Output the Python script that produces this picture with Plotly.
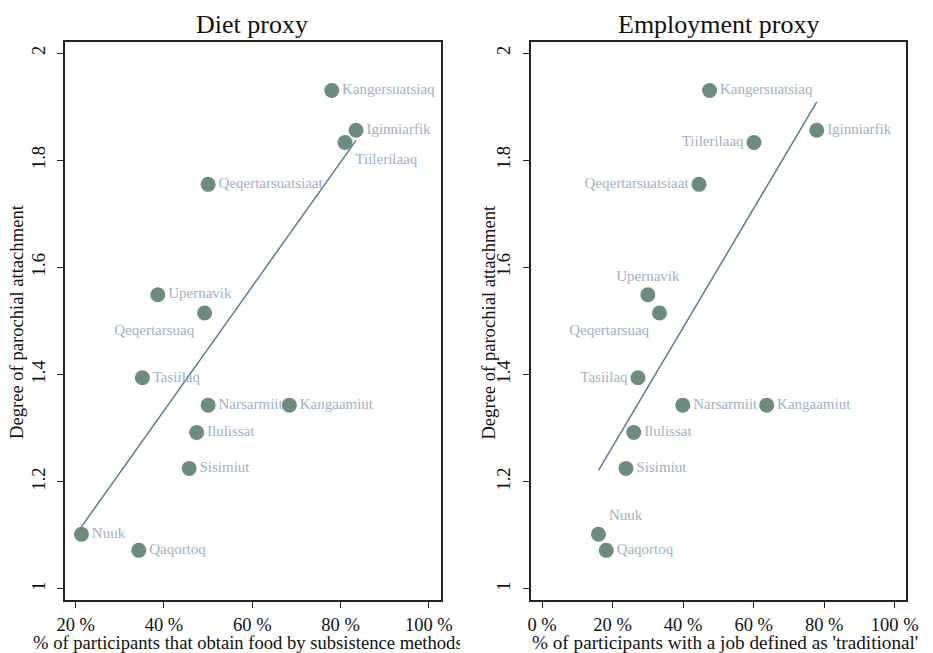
import numpy as np
import plotly.graph_objects as go

# ---- data ----
towns = ["Kangersuatsiaq", "Iginniarfik", "Tiilerilaaq", "Qeqertarsuatsiaat",
         "Upernavik", "Qeqertarsuaq", "Tasiilaq", "Narsarmiit", "Kangaamiut",
         "Ilulissat", "Sisimiut", "Nuuk", "Qaqortoq"]
attachment = [1.930, 1.856, 1.833, 1.755, 1.549, 1.515, 1.394, 1.343, 1.343,
              1.292, 1.225, 1.102, 1.072]
diet_pct = [78.0, 83.5, 81.0, 50.0, 38.6, 49.2, 35.1, 50.0, 68.4, 47.4, 45.7, 21.3, 34.3]
employ_pct = [47.5, 77.9, 60.1, 44.5, 30.0, 33.3, 27.2, 39.9, 63.7, 26.0, 23.8, 16.0, 18.2]

y_ticks = [1, 1.2, 1.4, 1.6, 1.8, 2]
y_ticklabels = ["1", "1.2", "1.4", "1.6", "1.8", "2"]
x_ticks_diet = [20, 40, 60, 80, 100]
x_ticks_emp = [0, 20, 40, 60, 80, 100]

# label placement (style)
pos_diet = ["middle right", "middle right", "bottom right", "middle right",
            "middle right", "bottom left", "middle right", "middle right",
            "middle right", "middle right", "middle right", "middle right",
            "middle right"]
pos_emp = ["middle right", "middle right", "middle left", "middle left",
           "top center", "bottom left", "middle left", "middle right",
           "middle right", "middle right", "middle right", "top right",
           "middle right"]

FONT = "Liberation Serif"
MARKER = "#6b8c7e"
LABEL = "#9fb0c8"
LINE = "#5b7a95"
FRAME = "#222222"

fig = go.Figure()


def add_panel(xdata, positions, xa, ya):
    x = np.array(xdata)
    y = np.array(attachment)
    b, a = np.polyfit(x, y, 1)
    xs = np.array([x.min(), x.max()])
    fig.add_trace(go.Scatter(x=xs, y=a + b * xs, mode="lines",
                             line=dict(color=LINE, width=1.5),
                             xaxis=xa, yaxis=ya, showlegend=False,
                             hoverinfo="skip"))
    fig.add_trace(go.Scatter(x=x, y=y, mode="markers+text", text=towns,
                             textposition=positions,
                             textfont=dict(family=FONT, size=15, color=LABEL),
                             marker=dict(size=15, color=MARKER),
                             cliponaxis=False,
                             xaxis=xa, yaxis=ya, showlegend=False))


add_panel(diet_pct, pos_diet, "x", "y")
add_panel(employ_pct, pos_emp, "x2", "y2")

# page body margin offset (screen px -> figure px)
OFF = 8
W, H = 933 - OFF, 653 - OFF


def px(p):
    return (p - OFF) / W


def py(p):
    return 1 - (p - OFF) / H


ydom = [py(600), py(42)]
yrange = [0.9794, 2.0206]

axis_common = dict(showgrid=False, zeroline=False, showline=True, mirror=True,
                   linecolor=FRAME, linewidth=1.6, ticks="outside", ticklen=6,
                   tickwidth=1.2, tickcolor=FRAME,
                   tickfont=dict(family=FONT, size=18.5, color="#111"))

fig.update_layout(
    width=W, height=H,
    margin=dict(l=0, r=0, t=0, b=0),
    paper_bgcolor="white", plot_bgcolor="white",
    xaxis=dict(domain=[px(58), px(442)], range=[17.56, 102.66],
               tickvals=x_ticks_diet, ticktext=[f"{v} %" for v in x_ticks_diet],
               ticklabelstandoff=1, anchor="y", **axis_common),
    yaxis=dict(domain=ydom, range=yrange, tickvals=y_ticks, ticktext=y_ticklabels,
               tickangle=-90, ticklabelstandoff=5, anchor="x", **axis_common),
    xaxis2=dict(domain=[px(534), px(918)], range=[-3.25, 103.3],
                tickvals=x_ticks_emp, ticktext=[f"{v} %" for v in x_ticks_emp],
                ticklabelstandoff=1, anchor="y2", **axis_common),
    yaxis2=dict(domain=ydom, range=yrange, tickvals=y_ticks, ticktext=y_ticklabels,
                tickangle=-90, ticklabelstandoff=5, anchor="x2", **axis_common),
)

tfont = dict(family=FONT, size=26, color="#111")
afont = dict(family=FONT, size=18.6, color="#111")
afont2 = dict(family=FONT, size=19.2, color="#111")
ann = [
    dict(text="Diet proxy", x=px(249), y=py(25), font=tfont),
    dict(text="Employment proxy", x=px(726), y=py(25), font=tfont),
    dict(text="% of participants that obtain food by subsistence methods",
         x=px(23), y=py(642), xanchor="left", width=427, align="left",
         font=afont),
    dict(text="% of participants with a job defined as 'traditional'",
         x=px(733), y=py(642), font=afont2),
    dict(text="Degree of parochial attachment", x=px(8), y=py(322),
         textangle=-90, font=afont),
    dict(text="Degree of parochial attachment", x=px(490), y=py(322),
         textangle=-90, font=afont),
]
for a in ann:
    a.setdefault("xanchor", "center")
    a.update(xref="paper", yref="paper", yanchor="middle", showarrow=False)
    fig.add_annotation(**a)

fig.write_html("out.html")
